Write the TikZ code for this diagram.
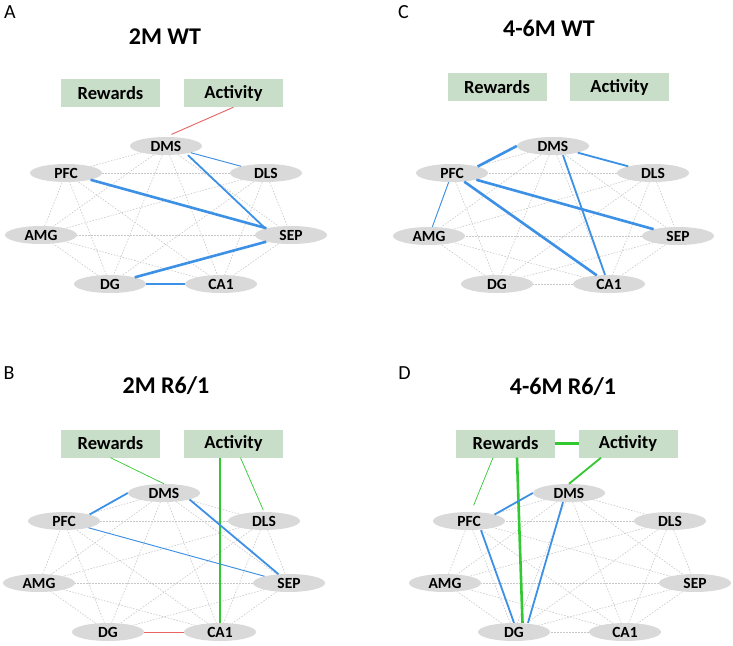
\documentclass[tikz,border=0pt]{standalone}
\usepackage{fontspec}
\setmainfont{Carlito}
\usetikzlibrary{shapes.geometric}
\definecolor{ellgray}{RGB}{217,217,217}
\definecolor{boxgreen}{RGB}{200,222,200}
\definecolor{lblue}{RGB}{60,145,230}
\definecolor{lgreen}{RGB}{50,200,50}
\definecolor{lred}{RGB}{230,100,100}
\definecolor{dgray}{RGB}{200,200,200}
\begin{document}
\begin{tikzpicture}[x=1pt,y=-1pt,
  reg/.style={ellipse,fill=ellgray,minimum width=72pt,minimum height=18pt,inner sep=0pt,font=\fontsize{15.5}{17}\bfseries\selectfont},
  var/.style={rectangle,fill=boxgreen,minimum width=99pt,minimum height=28pt,inner sep=0pt,font=\fontsize{18.5}{20}\bfseries\selectfont},
  ttl/.style={font=\fontsize{24}{28}\bfseries\selectfont,inner sep=0pt},
  lett/.style={font=\fontsize{20}{24}\selectfont,inner sep=0pt},
  dl/.style={draw=dgray,line width=0.6pt,dash pattern=on 1.5pt off 1.5pt},
  bthin/.style={draw=lblue,line width=0.9pt},
  bmed/.style={draw=lblue,line width=1.8pt},
  bthick/.style={draw=lblue,line width=2.6pt},
  gthin/.style={draw=lgreen,line width=0.7pt},
  gmed/.style={draw=lgreen,line width=1.8pt},
  gthick/.style={draw=lgreen,line width=2.6pt},
  rthin/.style={draw=lred,line width=0.9pt}]
\useasboundingbox (0,0) rectangle (733,645);
\fill[white] (0,0) rectangle (733,645);

% ---------- letters and titles ----------
\node[lett] (lA) at (10,12.5) {A};
\node[lett] (lC) at (403.5,12.5) {C};
\node[lett] (lB) at (9,373) {B};
\node[lett] (lD) at (404.5,373) {D};
\node[ttl] (tA) at (165,37) {2M WT};
\node[ttl] (tC) at (549,28) {4-6M WT};
\node[ttl] (tB) at (166,386) {2M R6/1};
\node[ttl] (tD) at (563,387) {4-6M R6/1};

% ---------- panel A ----------
\node[var] (aRew) at (110.5,93) {Rewards};
\node[var] (aAct) at (233.5,93) {Activity};
\node[reg] (aDMS) at (166,146) {DMS};
\node[reg] (aPFC) at (66,173) {PFC};
\node[reg] (aDLS) at (266,173) {DLS};
\node[reg] (aAMG) at (41,235) {AMG};
\node[reg] (aSEP) at (291,235) {SEP};
\node[reg] (aDG) at (110,284) {DG};
\node[reg] (aCA1) at (221,284) {CA1};

% ---------- panel C ----------
\node[var] (cRew) at (497,87) {Rewards};
\node[var] (cAct) at (619.5,87) {Activity};
\node[reg] (cDMS) at (553,146) {DMS};
\node[reg] (cPFC) at (452,173) {PFC};
\node[reg] (cDLS) at (653,173) {DLS};
\node[reg] (cAMG) at (429,236) {AMG};
\node[reg] (cSEP) at (678,236) {SEP};
\node[reg] (cDG) at (497,284) {DG};
\node[reg] (cCA1) at (609,284) {CA1};

% ---------- panel B ----------
\node[var] (bRew) at (110.5,443.5) {Rewards};
\node[var] (bAct) at (233.5,443.5) {Activity};
\node[reg] (bDMS) at (164,493) {DMS};
\node[reg] (bPFC) at (64,521) {PFC};
\node[reg] (bDLS) at (264,521) {DLS};
\node[reg] (bAMG) at (39,583) {AMG};
\node[reg] (bSEP) at (289,583) {SEP};
\node[reg] (bDG) at (108,632) {DG};
\node[reg] (bCA1) at (220,632) {CA1};

% ---------- panel D ----------
\node[var] (dRew) at (505.5,443.5) {Rewards};
\node[var] (dAct) at (628,443.5) {Activity};
\node[reg] (dDMS) at (569,493) {DMS};
\node[reg] (dPFC) at (469,521) {PFC};
\node[reg] (dDLS) at (670,521) {DLS};
\node[reg] (dAMG) at (445,583) {AMG};
\node[reg] (dSEP) at (695,583) {SEP};
\node[reg] (dDG) at (514,632) {DG};
\node[reg] (dCA1) at (625,632) {CA1};

% ---------- dashed background network ----------
\foreach \p in {a,b,c,d}{
  \foreach \u/\v in {DMS/DLS,DMS/SEP,DMS/CA1,DMS/DG,DMS/AMG,DMS/PFC,
                     DLS/SEP,DLS/CA1,DLS/DG,DLS/AMG,DLS/PFC,
                     SEP/CA1,SEP/DG,SEP/AMG,SEP/PFC,
                     CA1/DG,CA1/AMG,CA1/PFC,
                     DG/AMG,DG/PFC,AMG/PFC}{
    \draw[dl] (\p\u) -- (\p\v);
  }
}

% ---------- panel A connections ----------
\draw[rthin,shorten >=6pt] (aAct.south) -- (aDMS.north);
\draw[bthin] (aDMS) -- (aDLS);
\draw[bmed] ([xshift=22pt]aDMS.south) -- (aSEP.north west);
\draw[bthick] (aPFC) -- (aSEP);
\draw[bthick] (aDG) -- (aSEP);
\draw[bthick] (aDG) -- (aCA1);

% ---------- panel C connections ----------
\draw[bthick] (cPFC.north east) -- (cDMS.west);
\draw[bmed] (cDMS) -- (cDLS);
\draw[bmed] ([xshift=10pt]cDMS.south) -- ([xshift=-4pt]cCA1.north);
\draw[bthick] (cPFC) -- (cSEP);
\draw[bthick] (cPFC) -- (cCA1);
\draw[bthin] (cPFC) -- (cAMG);

% ---------- panel B connections ----------
\draw[gthin] (bRew.south) -- (bDMS.north);
\draw[gthick] (bAct.south -| bCA1.north) -- (bCA1.north);
\draw[gthin,shorten >=2pt] ([xshift=7pt]bAct.south) -- (bDLS.north);
\draw[bmed] (bPFC.north east) -- (bDMS.west);
\draw[bmed] (bDMS.south east) -- (bSEP);
\draw[bthin] (bPFC) -- (bSEP);
\draw[rthin] (bDG) -- (bCA1);

% ---------- panel D connections ----------
\draw[gmed,line width=2.2pt] ([xshift=-0.5pt]dRew.east) -- ([xshift=0.5pt]dAct.west);
\draw[gthin,shorten >=7pt] ([xshift=-12.5pt]dRew.south) -- ([xshift=2pt]dPFC.north);
\draw[gthick] ([xshift=11.5pt]dRew.south) -- ([xshift=8.5pt]dDG.north);
\draw[gmed] ([xshift=-27pt]dAct.south) -- (dDMS.north);
\draw[bmed] (dPFC.north east) -- (dDMS.west);
\draw[bmed] ([xshift=12pt]dPFC.south) -- (dDG.north);
\draw[bmed] ([xshift=-6pt]dDMS.south) -- ([xshift=14pt]dDG.north);
\end{tikzpicture}
\end{document}
